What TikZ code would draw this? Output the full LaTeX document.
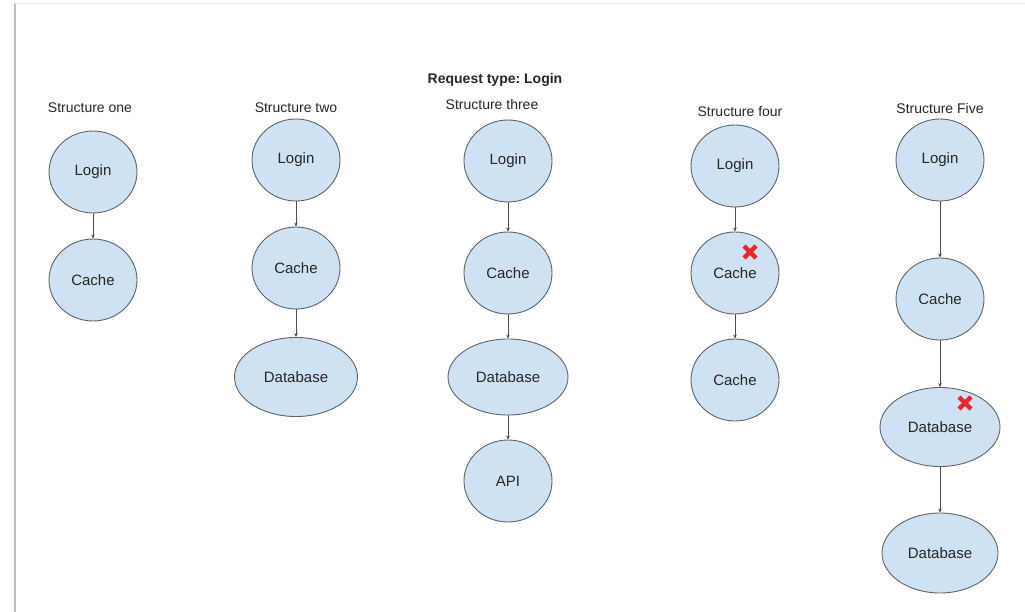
\documentclass[tikz,border=0pt]{standalone}
\usepackage{fontspec}
\setmainfont{Liberation Sans}
\usetikzlibrary{shapes.geometric,arrows.meta}
\frenchspacing
\definecolor{nodefill}{HTML}{CFE2F3}
\definecolor{nodeline}{HTML}{5F6368}
\definecolor{crossred}{HTML}{E8262B}
\tikzset{
  bubble/.style={ellipse, draw=nodeline, line width=0.9pt, fill=nodefill,
    inner sep=0pt, minimum width=88pt, minimum height=82pt,
    font=\fontsize{15}{17}\selectfont, text=black!85},
  wide/.style={minimum width=120pt, minimum height=79pt},
  heading/.style={font=\fontsize{14}{16}\selectfont, text=black!85},
  link/.style={draw=black!70, line width=0.6pt, -{Stealth[length=4pt,width=3.5pt]}},
  fail/.style={draw=crossred, line width=4.5pt}
}
\newcommand{\failmark}[2]{%
  \draw[fail] (#1-6,#2-6) -- (#1+6,#2+6);
  \draw[fail] (#1-6,#2+6) -- (#1+6,#2-6);}
\begin{document}
\begin{tikzpicture}[x=1pt,y=-1pt]
\useasboundingbox (0,0) rectangle (1025,612);
% page edges
\draw[black!25, line width=1.2pt] (15,3) -- (15,612);
\draw[black!8, line width=0.8pt] (15,3) -- (1025,3);

\node[heading, font=\bfseries\fontsize{14}{16}\selectfont] (title) at (495,80) {Request type: Login};

% Structure one
\node[heading] (h1) at (90,108) {Structure one};
\node[bubble] (a1) at (93,172) {Login};
\node[bubble] (a2) at (93,280) {Cache};
\draw[link] (a1) -- (a2);

% Structure two
\node[heading] (h2) at (296,108) {Structure two};
\node[bubble] (b1) at (296,160) {Login};
\node[bubble] (b2) at (296,268) {Cache};
\node[bubble, wide, minimum width=123pt] (b3) at (296,377) {Database};
\draw[link] (b1) -- (b2);
\draw[link] (b2) -- (b3);

% Structure three
\node[heading] (h3) at (492,104) {Structure three};
\node[bubble] (c1) at (508,161) {Login};
\node[bubble] (c2) at (508,273) {Cache};
\node[bubble, wide, minimum height=76pt] (c3) at (508,377) {Database};
\node[bubble] (c4) at (508,481) {API};
\draw[link] (c1) -- (c2);
\draw[link] (c2) -- (c3);
\draw[link] (c3) -- (c4);

% Structure four
\node[heading] (h4) at (740,112) {Structure four};
\node[bubble] (d1) at (735,166) {Login};
\node[bubble] (d2) at (735,273) {Cache};
\node[bubble] (d3) at (735,380) {Cache};
\draw[link] (d1) -- (d2);
\draw[link] (d2) -- (d3);
\failmark{750}{252}

% Structure five
\node[heading] (h5) at (940,108) {Structure Five};
\node[bubble] (e1) at (940,160) {Login};
\node[bubble] (e2) at (940,299) {Cache};
\node[bubble, wide] (e3) at (940,427) {Database};
\node[bubble, minimum width=116pt, minimum height=80pt] (e4) at (940,553) {Database};
\draw[link] (e1) -- (e2);
\draw[link] (e2) -- (e3);
\draw[link] (e3) -- (e4);
\failmark{965}{403}
\end{tikzpicture}
\end{document}
